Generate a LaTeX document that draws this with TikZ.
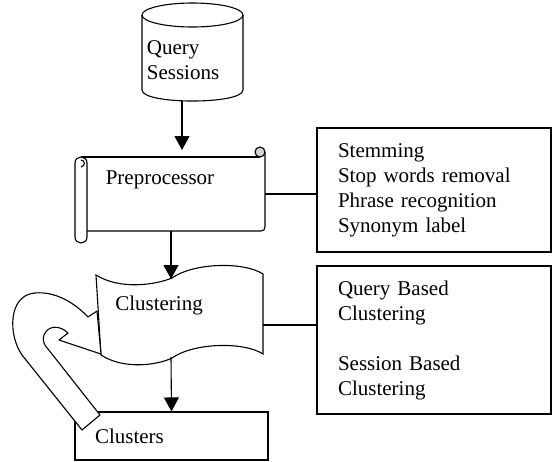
\documentclass[tikz,border=0pt]{standalone}
\usepackage{fontspec}
\setmainfont{Liberation Serif}
\usetikzlibrary{arrows.meta,positioning}

\begin{document}
\begin{tikzpicture}[x=1pt, y=-1pt, line width=1.1pt,
    flow/.style={-{Triangle[length=14pt,width=15pt]}},
    txt/.style={font=\fontsize{21}{25}\selectfont, align=left},
    listbox/.style={draw, txt, text width=192pt, inner xsep=21pt, minimum height=124pt}]
    \useasboundingbox (0,0) rectangle (552,461);

    % Query Sessions (cylinder)
    \draw (142,15) -- (142,90) .. controls (142,104.7) and (243,104.7) .. (243,90) -- (243,15);
    \draw (192.5,15) ellipse [x radius=50.5pt, y radius=12pt];
    \node[txt, anchor=west] (sessions) at (143,60) {Query\\Sessions};
    \coordinate (sessbot) at (182,101);

    % Preprocessor (scroll)
    \draw (81,157) -- (260,157);
    \draw (265,152) -- (265,227) .. controls (265,229.5) and (263.5,231) .. (261,231) -- (87,231);
    \draw[fill=gray!35] (260,152) circle [radius=5pt];
    \draw[fill=white] (75,163) .. controls (75,155) and (87,155) .. (87,163) -- (87,237)
        .. controls (87,245) and (75,245) .. (75,237) -- cycle;
    \draw (81,160) .. controls (85,160) and (86,166) .. (81,167);
    \node[txt] (prep) at (160,180) {Preprocessor};
    \coordinate (preptop) at (182,150);
    \coordinate (prepbot) at (171,231);
    \coordinate (prepright) at (265,194);

    % Clustering (tape)
    \draw (96,275) .. controls (120,290) and (155,285) .. (172,278)
        .. controls (195,262) and (245,262) .. (263,274) -- (263,354)
        .. controls (245,342) and (195,342) .. (172,358)
        .. controls (158,365) and (124,370) .. (101,355) -- cycle;
    \node[txt] (clust) at (159,305) {Clustering};
    \coordinate (clusttop) at (171,279);
    \coordinate (clustbot) at (171,357);
    \coordinate (clustright) at (263,325);

    % Clusters
    \node[draw, txt, text width=153pt, inner xsep=20pt, minimum height=48pt] (clusters) at (171.5,436) {Clusters};

    % Feedback arrow
    \draw[fill=white, line join=round] (82,430) -- (22,355)
        .. controls (8,335) and (8,295) .. (35,293)
        .. controls (55,291) and (75,303) .. (88,317)
        -- (97,311) -- (101,354) -- (59,340) -- (68,333)
        .. controls (60,325) and (48,325) .. (44,335)
        .. controls (42,340) and (44,345) .. (48,349) -- (100,415) -- cycle;

    % Side boxes
    \node[listbox] (prepbox) at (434,190) {Stemming\\Stop words removal\\Phrase recognition\\Synonym label};
    \node[listbox, minimum height=148pt] (clustbox) at (434,340) {Query Based\\Clustering\\[25pt]Session Based\\Clustering};

    % Connectors
    \foreach \a/\b in {sessbot/preptop, prepbot/clusttop, clustbot/clusters.north} {
        \draw[flow] (\a) -- (\b);
    }
    \draw (prepright) -- (prepright -| prepbox.west);
    \draw (clustright) -- (clustright -| clustbox.west);
\end{tikzpicture}
\end{document}
